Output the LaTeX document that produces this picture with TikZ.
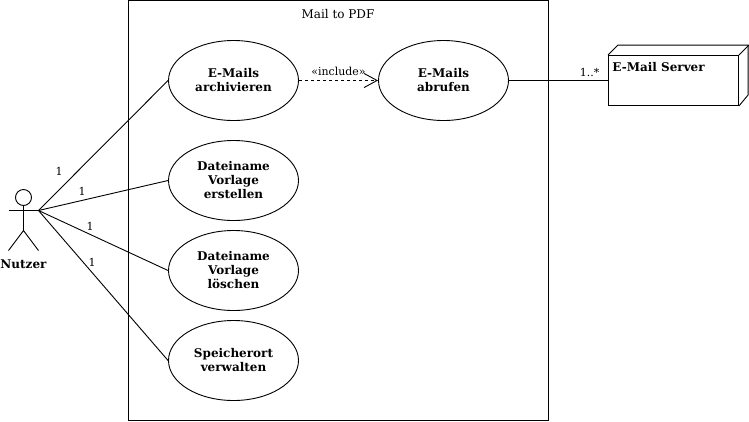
\documentclass[tikz,border=0pt]{standalone}
\usepackage{fontspec}
\setmainfont{DejaVu Serif}
\usetikzlibrary{positioning, arrows.meta, calc, shapes.geometric}
\tikzset{
    usecase/.style={draw, ellipse, minimum width=130pt, minimum height=80pt, inner sep=0pt, align=center, font=\fontsize{12}{14}\selectfont\bfseries},
    multiplicity/.style={font=\fontsize{11}{13}\selectfont, inner sep=0pt}
}
\begin{document}
\begin{tikzpicture}[x=1pt, y=-1pt, line width=0.9pt]
        \useasboundingbox (0,0) rectangle (749,421);
        \node[draw, minimum width=420pt, minimum height=420pt, inner sep=0pt] (system) at (338.5,210.5) {};
        \node[font=\fontsize{12}{14}\selectfont] (title) at (338,14) {Mail to PDF};

        \node[usecase] (archivieren) at (233.5,80.5) {E-Mails\\archivieren};
        \node[usecase] (abrufen) at (443.5,80.5) {E-Mails\\abrufen};
        \node[usecase] (erstellen) at (233.5,180.5) {Dateiname\\Vorlage\\erstellen};
        \node[usecase] (loeschen) at (233.5,270.5) {Dateiname\\Vorlage\\löschen};
        \node[usecase] (verwalten) at (233.5,360.5) {Speicherort\\verwalten};

        % actor
        \node[draw, circle, minimum size=16pt, inner sep=0pt] (head) at (23.5,197.5) {};
        \coordinate (hand) at (38.5,210.5);
        \coordinate (otherhand) at (8.5,210.5);
        \coordinate (hip) at (23.5,230.5);
        \coordinate (leftfoot) at (8.5,250.5);
        \coordinate (rightfoot) at (38.5,250.5);
        \draw (head.south) -- (hip);
        \draw (otherhand) -- (hand);
        \draw (leftfoot) -- (hip) -- (rightfoot);
        \node[font=\fontsize{12}{14}\selectfont\bfseries] (nutzer) at (23.5,264) {Nutzer};

        \foreach \usecase/\lx/\ly in {archivieren/59/171, erstellen/82/191, loeschen/90/226, verwalten/92/262} {
            \draw (hand) -- (\usecase.west);
            \node[multiplicity] (label-\usecase) at (\lx,\ly) {1};
        }

        % server node
        \node[draw, minimum width=130pt, minimum height=50pt, inner sep=0pt] (server) at (673.5,80.5) {};
        \draw (server.north west) -- ++(10,-10) -- ++(130,0) -- ++(0,50) -- (server.south east);
        \draw (server.north east) -- ++(10,-10);
        \node[anchor=west, inner sep=0pt, font=\fontsize{12}{14}\selectfont\bfseries] (servername) at (612,67) {E-Mail Server};

        \draw (abrufen.east) -- (server.west);
        \node[multiplicity] (serverlabel) at (589.5,72) {1..*};

        \draw[dash pattern=on 3pt off 3pt, -{Straight Barb[length=13pt, width=14pt]}] (archivieren.east) -- (abrufen.west);
        \node[multiplicity] (include) at (338.5,71) {«include»};
    \end{tikzpicture}
\end{document}
